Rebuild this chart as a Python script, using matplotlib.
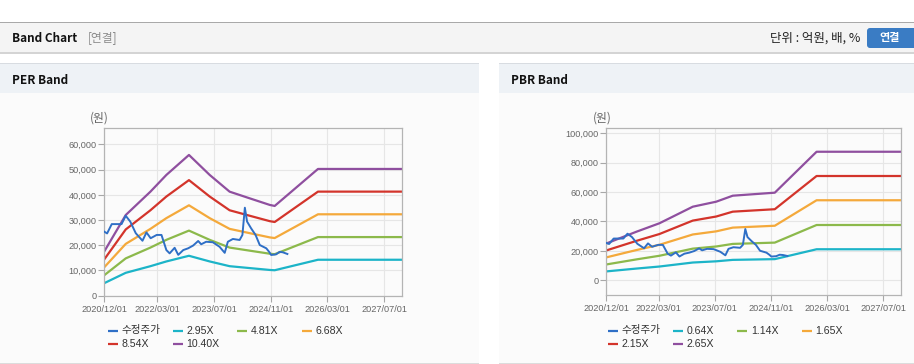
"""
Band chart page: PER band and PBR band with adjusted share price.
"""

import matplotlib
matplotlib.use("Agg")
import matplotlib.pyplot as plt
from matplotlib.patches import Rectangle, FancyBboxPatch
from matplotlib.ticker import FuncFormatter
import numpy as np
import pandas as pd

W, H = 914, 364

# adjusted share price (same series on both charts)
price_dates = ["2020-12-01", "2020-12-25", "2021-02-03", "2021-04-28", "2021-06-03",
               "2021-07-12", "2021-08-28", "2021-10-25", "2021-11-28", "2022-01-03",
               "2022-02-24", "2022-04-06", "2022-05-18", "2022-06-15", "2022-07-28",
               "2022-08-28", "2022-10-10", "2022-11-21", "2023-01-03", "2023-02-15",
               "2023-03-13", "2023-04-25", "2023-06-21", "2023-08-18", "2023-10-01",
               "2023-10-28", "2023-12-10", "2024-02-06", "2024-03-01", "2024-03-22",
               "2024-04-10", "2024-05-15", "2024-06-22", "2024-07-28", "2024-09-22",
               "2024-10-18", "2024-11-03", "2024-12-15", "2025-01-15", "2025-02-12",
               "2025-03-22"]
price = [25400, 24700, 28400, 28400, 31700, 29400, 24800, 21800, 25100, 22800,
         24100, 24100, 18100, 16800, 19000, 16200, 18100, 18800, 19900, 21700,
         20400, 21400, 21200, 19400, 17000, 21400, 22500, 22100, 24100, 34900,
         29400, 26700, 24100, 20100, 18800, 17300, 16150, 16400, 17400, 17200,
         16550]

# EPS path behind the PER band lines
eps_dates = ["2020-12-01", "2021-06-03", "2022-01-01", "2022-05-18", "2022-11-28",
             "2023-05-25", "2023-11-12", "2024-05-01", "2024-10-22", "2024-12-03",
             "2025-12-10", "2027-12-31"]
eps = [1690, 3077, 3968, 4606, 5368, 4606, 3968, 3716, 3462, 3423, 4834, 4834]
per_multiples = [2.95, 4.81, 6.68, 8.54, 10.40]

# BPS path behind the PBR band lines
bps_dates = ["2020-12-01", "2021-08-20", "2022-03-07", "2022-12-22", "2023-07-13",
             "2023-12-04", "2024-12-03", "2025-12-01", "2027-12-31"]
bps = [9450, 12475, 14634, 18894, 20177, 21717, 22491, 33000, 33000]
pbr_multiples = [0.64, 1.14, 1.65, 2.15, 2.65]

date_ticks = ["2020-12-01", "2022-03-01", "2023-07-01", "2024-11-01",
              "2026-03-01", "2027-07-01"]
x_range = ["2020-12-01", "2027-12-04"]

price_color = "#2f6fc6"
band_colors = ["#1cb4c8", "#8cb94b", "#f4a93b", "#d3342b", "#8f4f9f"]
TXT = ["Liberation Sans", "Noto Sans CJK KR", "DejaVu Sans"]
KR = ["Noto Sans CJK KR", "DejaVu Sans"]

fig = plt.figure(figsize=(W / 100, H / 100), dpi=100)
fig.patch.set_facecolor("white")

# page furniture in pixel coordinates
bg = fig.add_axes([0, 0, 1, 1])
bg.set_xlim(0, W)
bg.set_ylim(H, 0)
bg.axis("off")
bg.set_zorder(0)

bg.add_patch(Rectangle((0, 21.5), W, 1.3, color="#a9a9a9", lw=0))
bg.add_patch(Rectangle((0, 22.8), W, 29.5, color="#f4f4f4", lw=0))
bg.add_patch(Rectangle((0, 52.3), W, 1.6, color="#d4d4d4", lw=0))
bg.text(12, 38, "Band Chart", fontsize=8.5, fontweight="bold", color="#111",
        va="center", family=KR)
bg.text(88, 38, "[연결]", fontsize=8.5, color="#8a8a8a", va="center", family=KR)
bg.text(860, 38, "단위 : 억원, 배, %", fontsize=9, color="#222", va="center",
        ha="right", family=KR)
bg.add_patch(FancyBboxPatch((867, 28), 52, 20, boxstyle="round,pad=0,rounding_size=3",
                            color="#3a7cc4", lw=0))
bg.text(890, 38, "연결", fontsize=8, fontweight="bold", color="white",
        va="center", ha="center", family=KR)

for x0, x1, title in [(0, 479, "PER Band"), (499, 914, "PBR Band")]:
    w = x1 - x0
    bg.add_patch(Rectangle((x0, 63), w, 1.2, color="#d8dce1", lw=0))
    bg.add_patch(Rectangle((x0, 64.2), w, 28.8, color="#eef2f6", lw=0))
    bg.add_patch(Rectangle((x0, 93), w, 270, color="#fbfbfb", lw=0))
    bg.add_patch(Rectangle((x0, 362.5), w, 1.5, color="#dcdcdc", lw=0))
    bg.text(x0 + 12, 80, title, fontsize=8.5, fontweight="bold", color="#111",
            va="center", family=KR)


def band_chart(left, top, right, bottom, base_dates, base, multiples, ylim, yticks):
    ax = fig.add_axes([left / W, 1 - bottom / H, (right - left) / W, (bottom - top) / H])
    ax.set_zorder(2)
    ax.set_facecolor("none")
    bd = pd.to_datetime(base_dates)
    for m, c in zip(multiples, band_colors):
        ax.plot(bd, np.array(base) * m, color=c, lw=1.6, solid_joinstyle="round")
    ax.plot(pd.to_datetime(price_dates), price, color=price_color, lw=1.4, zorder=4)
    ax.set_xlim(pd.to_datetime(x_range))
    ax.set_ylim(*ylim)
    ax.set_yticks(yticks)
    ax.yaxis.set_major_formatter(FuncFormatter(lambda v, _: f"{v:,.0f}"))
    xt = pd.to_datetime(date_ticks)
    ax.set_xticks(xt)
    ax.set_xticklabels([d.strftime("%Y/%m/%d") for d in xt])
    ax.grid(True, color="#e6e6e6", lw=0.8)
    ax.set_axisbelow(True)
    for s in ax.spines.values():
        s.set_color("#b4b4b4")
        s.set_linewidth(0.9)
    ax.tick_params(axis="both", length=4, width=0.8, color="#a8a8a8",
                   labelsize=6.6, labelcolor="#666666")
    ax.tick_params(axis="y", pad=1.5)
    ax.tick_params(axis="x", pad=2.5)
    for lab in ax.get_xticklabels() + ax.get_yticklabels():
        lab.set_family(TXT)
    return ax


band_chart(104.3, 128.3, 402.3, 295.7, eps_dates, eps, per_multiples,
           (0, 66400), np.arange(0, 60001, 10000))
band_chart(606.3, 128.3, 901, 295, bps_dates, bps, pbr_multiples,
           (-10000, 103400), np.arange(0, 100001, 20000))

bg.text(99, 118, "(원)", fontsize=8.5, color="#666", va="center", ha="center", family=KR)
bg.text(602, 118, "(원)", fontsize=8.5, color="#666", va="center", ha="center", family=KR)


def legend(x0, multiples):
    labels = ["수정주가"] + [f"{m:.2f}X" for m in multiples]
    colors = [price_color] + band_colors
    for i, (lab, c) in enumerate(zip(labels, colors)):
        cx = x0 + 64.7 * (i % 4)
        ry = 330.5 + 13.5 * (i // 4)
        bg.plot([cx, cx + 10], [ry, ry], color=c, lw=1.6, solid_capstyle="butt")
        bg.text(cx + 13.5, ry, lab, fontsize=7.6, color="#333", va="center", family=TXT)


legend(108, per_multiples)
legend(608, pbr_multiples)

plt.savefig("out.png", dpi=100)
plt.close()
